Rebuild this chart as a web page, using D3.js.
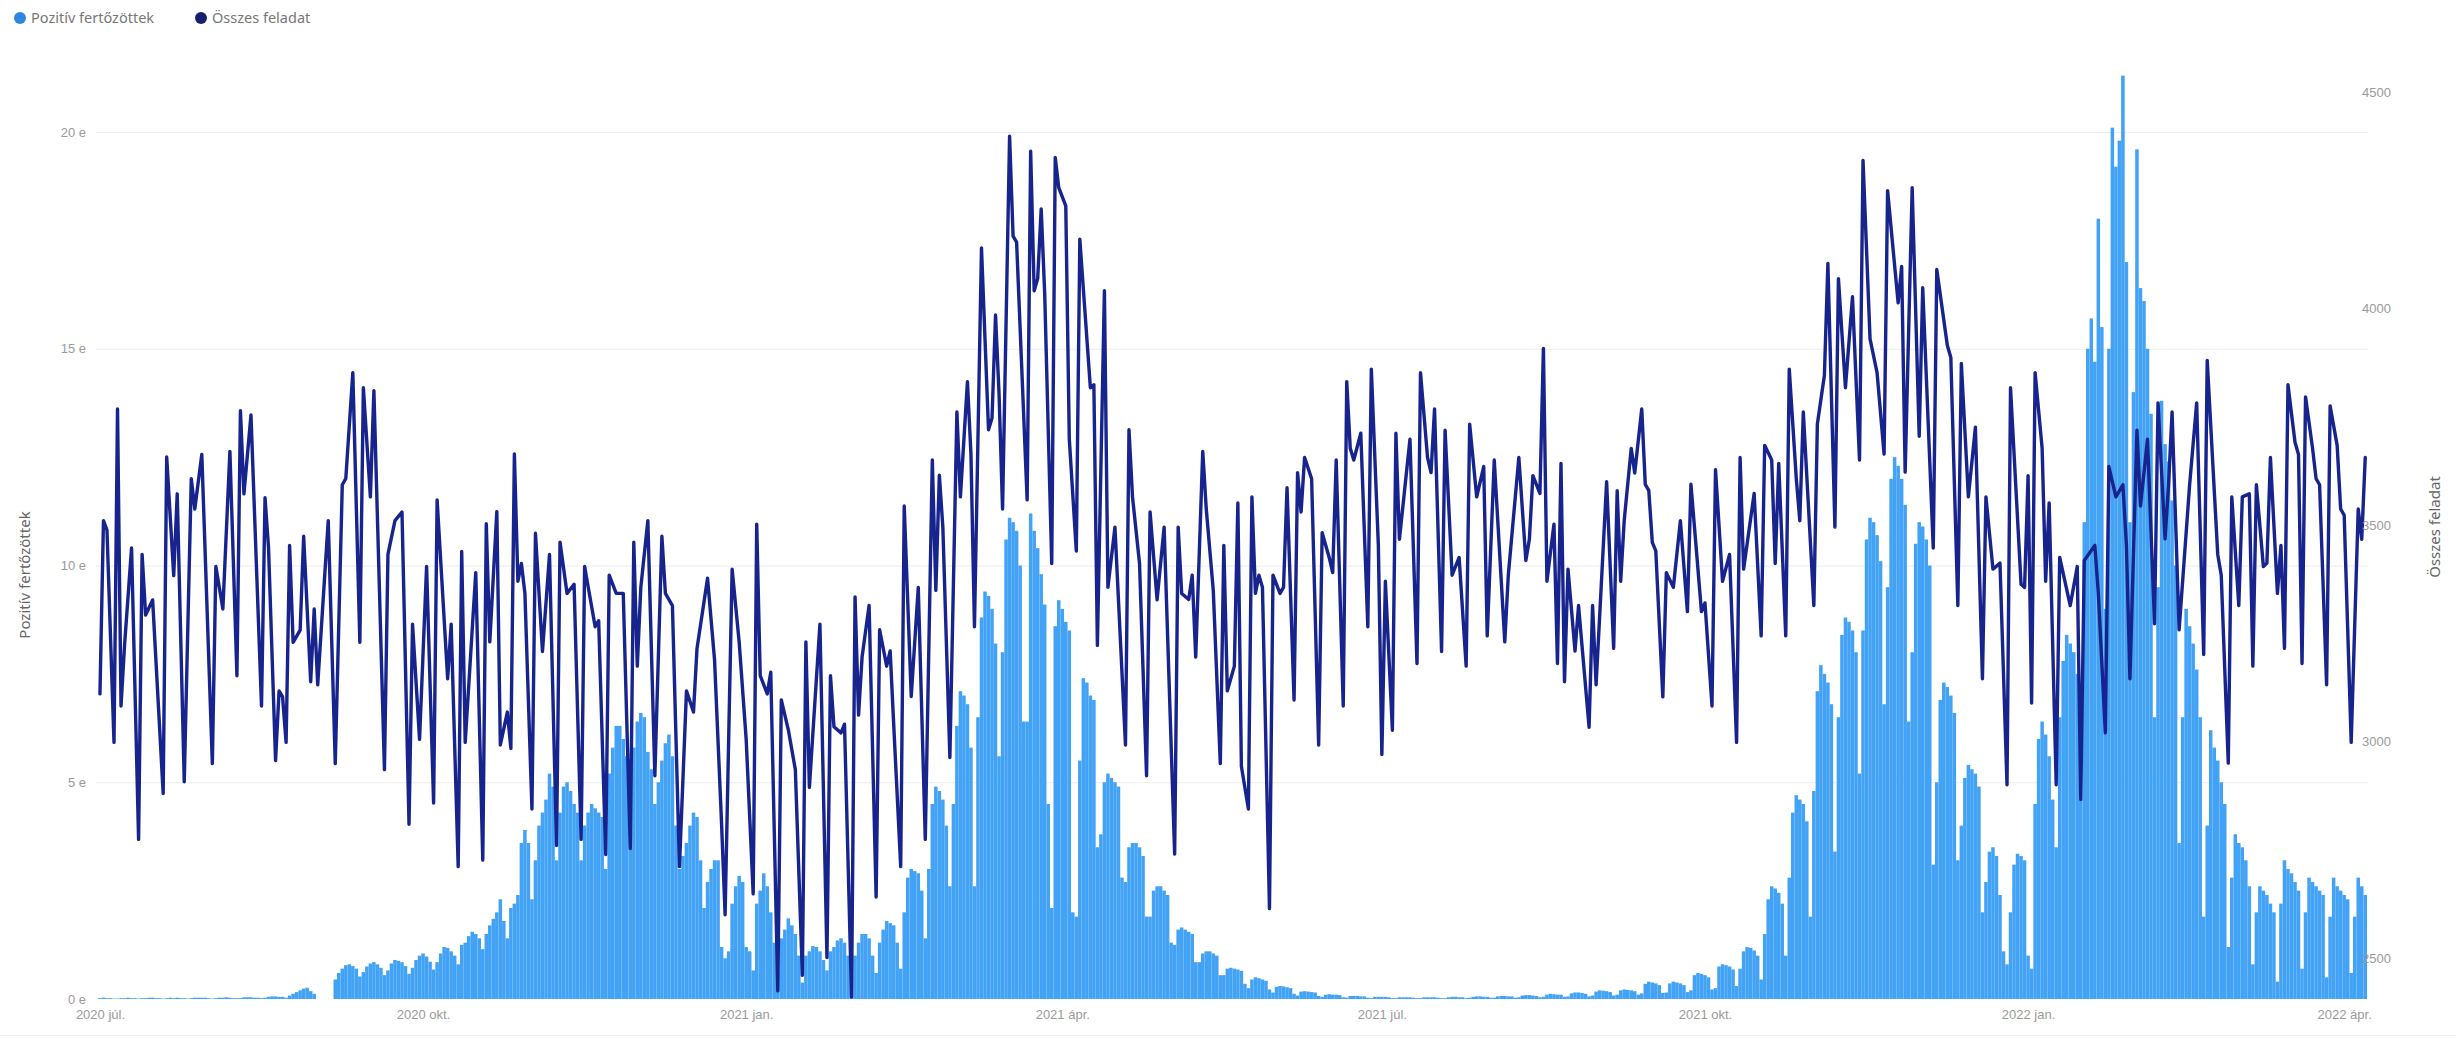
<!DOCTYPE html>
<html><head><meta charset="utf-8">
<script src="https://cdn.jsdelivr.net/npm/d3@7"></script>
<style>
body{margin:0;background:#fff;}
svg{display:block;font-family:"Noto Sans","Open Sans",sans-serif;}
</style>
</head><body>
<svg id="c" width="2456" height="1038"></svg>
<script>
// ---------- DATA ----------
const START = "2020-07-01";
const seriesNames = ["Pozitív fertőzöttek", "Összes feladat"];
const xTickDates = ["2020-07-01","2020-10-01","2021-01-01","2021-04-01","2021-07-01","2021-10-01","2022-01-01","2022-04-01"];
const xTickLabels = ["2020 júl.","2020 okt.","2021 jan.","2021 ápr.","2021 júl.","2021 okt.","2022 jan.","2022 ápr."];
const leftTicks = [0, 5000, 10000, 15000, 20000];
const leftTickLabels = ["0 e", "5 e", "10 e", "15 e", "20 e"];
const rightTicks = [2500, 3000, 3500, 4000, 4500];

// daily positive cases from 2020-07-01 (one value per day)
const positives = [
 20,30,20,20,10,
 10,20,20,30,20,20,10,
 20,20,30,30,20,20,10,
 20,30,20,30,20,20,10,
 20,30,30,30,30,20,10,
 20,30,30,40,30,20,20,
 20,40,40,40,30,30,20,
 30,50,60,60,50,50,30,
 80,120,160,200,240,260,180,
 120,0,0,0,0,0,450,
 600,700,780,800,760,700,520,
 620,750,820,850,800,720,550,
 660,820,900,880,850,760,580,
 720,900,1000,1050,980,860,680,
 850,1050,1200,1180,1100,1000,800,
 1250,1300,1450,1550,1500,1400,1150,
 1500,1700,1850,2000,2300,1800,1400,
 2100,2200,2400,3600,3900,3600,2300,
 3200,4000,4300,4600,5200,4900,3200,
 4300,4900,5000,4800,4500,4300,3200,
 4000,4300,4500,4400,4300,4200,3000,
 5200,5800,6300,6300,6000,5600,4200,
 5800,6400,6600,6500,5700,5300,4500,
 5000,5500,5900,6100,5600,4000,3000,
 3300,3600,4000,4300,4200,3200,2100,
 2700,3000,3200,3200,1200,940,1100,
 2200,2600,2840,2700,1200,1100,660,
 2200,2500,2900,2600,2000,1300,660,
 1400,1600,1860,1700,1500,1000,380,
 1000,1100,1220,1200,1100,900,660,
 1100,1200,1350,1400,1300,1000,520,
 1000,1300,1500,1500,1400,1000,600,
 1300,1600,1800,1750,1700,1300,700,
 2000,2800,3000,2950,2900,2500,1400,
 3000,4500,4900,4800,4600,4000,2600,
 4500,6300,7100,7000,6800,5800,2600,
 6500,8800,9400,9300,9000,8200,5600,
 8000,10600,11100,11000,10800,10000,6400,
 6400,11200,10800,10400,9800,9100,4500,
 2100,8600,9200,9000,8700,8500,2000,
 1900,5500,7400,7300,7000,6900,3500,
 3800,5000,5200,5100,5000,4900,2800,
 2700,3500,3600,3600,3500,3300,1900,
 1900,2500,2600,2600,2500,2400,1300,
 1250,1600,1650,1600,1550,1500,850,
 850,1050,1100,1100,1050,1000,550,
 550,700,720,700,680,650,350,
 250,450,500,480,450,420,220,
 150,280,300,290,270,250,120,
 80,170,180,170,160,150,70,
 50,100,110,100,100,90,40,
 30,70,70,70,60,60,30,
 20,50,50,50,50,40,20,
 20,40,40,40,40,30,20,
 20,40,40,40,40,30,20,
 20,40,50,50,40,40,20,
 30,50,60,60,50,50,30,
 30,60,70,70,60,60,30,
 40,80,90,90,80,70,40,
 50,100,120,110,100,100,50,
 60,130,150,150,140,120,60,
 80,170,200,190,180,160,80,
 100,200,220,210,200,180,100,
 130,350,400,380,360,320,140,
 150,360,400,380,360,320,160,
 200,550,600,580,550,500,220,
 250,750,800,780,750,680,300,
 700,1100,1200,1180,1120,1000,450,
 1500,2300,2600,2550,2450,2200,1000,
 2800,4300,4700,4600,4500,4100,1900,
 4800,7100,7700,7500,7300,6800,3400,
 6500,8400,8800,8700,8500,8000,5200,
 8500,10600,11100,11000,10700,10100,6800,
 9500,12000,12500,12300,12000,11400,6400,
 8000,10500,11000,10900,10600,10000,3100,
 5000,6900,7300,7200,7000,6600,3200,
 4000,5100,5400,5300,5200,4900,2000,
 2700,3400,3500,3300,2400,1100,800,
 2000,3100,3350,3300,3200,1000,700,
 4500,6000,6400,6100,5600,4600,3500,
 6500,7800,8400,8200,8000,7500,4600,
 11000,15000,15700,14700,18000,15500,9000,
 15000,20100,19200,19800,21300,17000,11000,
 14000,19600,16400,16100,15000,13500,6500,
 9500,13800,12800,12400,11500,10000,3600,
 6500,9000,8600,8200,7600,6500,1900,
 4000,6200,5800,5500,5000,4500,1200,
 2800,3800,3600,3500,3200,2600,800,
 2000,2600,2500,2400,2200,2000,400,
 2200,3200,3000,2900,2700,2500,700,
 2000,2800,2700,2600,2500,2400,500,
 1900,2800,2600,2500,2400,2300,600,
 1900,2800,2600,2400
];

// "Összes feladat": day offset from START and value, read at each visible vertex
const taskDay = [
 0,1,2,4,5,6,7,9,11,12,13,15,18,19,21,22,24,26,27,29,32,33,35,37,39,40,41,43,46,47,48,50,51,52,53,54,55,57,58,60,61,62,65,67,69,70,72,74,75,77,78,81,82,84,86,88,89,91,93,95,96,99,100,102,103,104,
 107,109,110,111,113,114,116,117,118,119,120,121,123,124,126,128,130,131,133,135,137,138,141,142,144,145,147,149,151,152,153,154,156,158,160,161,163,165,167,169,170,173,175,177,178,180,182,184,186,187,188,190,191,193,194,196,198,200,201,202,205,207,208,209,211,212,214,
 215,216,217,219,221,222,224,225,226,228,229,231,233,235,237,238,239,240,242,244,245,247,248,249,251,253,254,255,256,257,259,260,261,264,265,266,267,268,269,271,272,273,275,276,278,279,282,283,284,286,287,289,292,293,294,296,298,299,301,303,306,307,308,310,311,312,314,315,317,319,320,321,323,324,
 325,327,328,329,330,331,333,334,336,337,338,340,341,342,343,345,347,348,350,351,352,354,355,356,357,359,361,362,364,365,366,368,369,370,373,375,376,378,379,380,382,383,385,387,389,390,392,394,395,397,400,401,404,406,407,408,410,411,412,414,415,416,417,418,420,421,424,425,426,429,431,432,
 433,434,436,437,439,440,441,442,443,445,446,448,450,452,453,456,457,459,460,462,464,466,467,468,471,473,474,476,477,478,480,481,483,484,485,488,489,491,492,494,495,497,499,501,502,504,506,508,509,512,513,514,516,518,519,522,523,526,527,529,530,532,534,536,537,539,541,
 543,544,547,548,549,550,551,553,554,555,557,558,561,563,564,565,568,569,571,572,574,576,577,578,580,581,583,585,586,588,589,590,592,595,597,599,600,603,604,606,607,609,610,612,613,614,616,617,618,620,621,622,623,625,626,627,628,630,631,632,634,635,637,638,639,641,643,644,645
];
const taskValue = [
 3110,3510,3488,2998,3768,3082,3222,3447,2774,3432,3292,3327,2880,3657,3383,3572,2907,3607,3537,3663,2949,3404,3306,3670,3152,3764,3572,3754,3082,3563,3447,2956,3117,3103,2998,3453,3229,3257,3474,3138,3306,3131,3510,2949,3593,3607,3852,3229,3817,3565,3810,2935,3432,3510,3530,2809,3271,3005,3404,2858,3558,3145,3271,2711,3439,2998,
 3390,2726,3503,3230,3531,2992,3068,2984,3664,3370,3411,3342,2844,3481,3208,3432,2760,3460,3342,3363,2774,3404,3265,3279,2739,3384,3342,3342,2753,3460,3174,3356,3510,2921,3474,3342,3314,2711,3117,3068,3215,3377,3188,2809,2600,3398,3230,3005,2648,3502,3152,3110,3160,2424,3096,3027,2935,2460,3230,2894,3271,2501,3152,3034,3020,3040,2410,
 3334,3061,3195,3314,2641,3258,3174,3209,3040,2711,3544,3104,3356,2774,3650,3349,3615,3495,2963,3761,3565,3831,3664,3265,4140,3720,3747,3985,3803,3537,4398,4167,4153,3558,4363,4041,4069,4230,4034,3411,4349,4279,4237,3699,3440,4160,3817,3824,3222,4041,3356,3495,2992,3720,3565,3411,2921,3530,3327,3495,2740,3495,3342,3328,3384,3195,3670,3537,3349,2949,3453,3117,3174,3551,
 2943,2844,3565,3342,3384,3356,2614,3384,3342,3356,3586,3096,3621,3530,3656,3607,2992,3482,3425,3390,3650,3082,3831,3677,3650,3712,3265,3860,3453,2970,3370,3026,3712,3467,3698,3180,3852,3656,3621,3768,3208,3719,3384,3425,3174,3733,3565,3635,3244,3650,3230,3384,3656,3418,3467,3614,3573,3908,3370,3502,3180,3642,3138,3398,3209,3314,3033,3314,3131,3600,3215,3579,
 3370,3510,3677,3620,3768,3594,3580,3460,3440,3103,3390,3356,3510,3300,3594,3300,3320,3082,3628,3370,3432,2998,3656,3398,3573,3244,3684,3650,3411,3642,3244,3860,3607,3510,3761,3314,3733,3845,4104,3495,4069,3817,4027,3650,4342,3930,3852,3664,4272,4013,4097,3622,4279,3705,4048,3447,4090,3915,3887,3314,3873,3565,3726,3145,3565,3398,3412,
 2900,3817,3363,3356,3614,3089,3852,3677,3370,3551,2900,3425,3314,3404,2866,3418,3453,3342,3020,3635,3565,3593,3453,3145,3719,3544,3698,3272,3782,3468,3593,3761,3258,3593,3782,3201,3880,3432,3384,2950,3565,3314,3565,3572,3174,3593,3404,3412,3656,3342,3453,3215,3824,3691,3663,3180,3796,3677,3607,3593,3131,3775,3684,3537,3523,2998,3537,3467,3656
];

// ---------- CHART ----------
const svg = d3.select("#c");
const t0 = new Date(START + "T00:00:00Z").getTime();
const dayDate = d => new Date(t0 + d * 864e5);
const nDays = positives.length;

const x = d3.scaleUtc().domain([dayDate(-0.5), dayDate(nDays - 0.5)]).range([98.2, 2367]);
const yL = d3.scaleLinear().domain([0, 20000]).range([999, 132]);
const yR = d3.scaleLinear().domain([2500, 4500]).range([958, 92]);

const barColor = "#42a2f6";
const lineColor = "#18248e";

// gridlines
svg.append("g").selectAll("line").data(leftTicks.slice(1)).join("line")
  .attr("x1", 96).attr("x2", 2368)
  .attr("y1", d => yL(d) + 0.5).attr("y2", d => yL(d) + 0.5)
  .attr("stroke", "#ededed").attr("stroke-width", 1);

// bars
const bw = x(dayDate(1)) - x(dayDate(0));
svg.append("g").selectAll("rect").data(positives).join("rect")
  .attr("x", (d, i) => x(dayDate(i)) - bw / 2)
  .attr("width", bw)
  .attr("y", d => yL(d))
  .attr("height", d => yL(0) - yL(d))
  .attr("fill", barColor);

// line
const lineData = taskDay.map((d, i) => ({ date: dayDate(d), v: taskValue[i] }));
svg.append("path").datum(lineData)
  .attr("fill", "none").attr("stroke", lineColor).attr("stroke-width", 3.4)
  .attr("stroke-linejoin", "round").attr("stroke-linecap", "round")
  .attr("d", d3.line().x(d => x(d.date)).y(d => yR(d.v)));

// axes
const tickText = g => g.selectAll("text").attr("fill", "#9a9a9a").style("font-size", "13px");
const axL = svg.append("g").attr("transform", "translate(90,0)")
  .call(d3.axisLeft(yL).tickValues(leftTicks).tickFormat((d, i) => leftTickLabels[i]).tickSize(0).tickPadding(4));
axL.select(".domain").remove(); tickText(axL);

const axR = svg.append("g").attr("transform", "translate(2358,0)")
  .call(d3.axisRight(yR).tickValues(rightTicks).tickFormat(d3.format("d")).tickSize(0).tickPadding(4));
axR.select(".domain").remove(); tickText(axR);

const axB = svg.append("g").attr("transform", "translate(0,1006)")
  .call(d3.axisBottom(x).tickValues(xTickDates.map(s => new Date(s + "T00:00:00Z"))).tickFormat((d, i) => xTickLabels[i]).tickSize(0).tickPadding(4));
axB.select(".domain").remove(); tickText(axB);

// axis titles
svg.append("text").attr("transform", "translate(30,575) rotate(-90)")
  .attr("text-anchor", "middle").attr("fill", "#666").style("font-size", "15px").text(seriesNames[0]);
svg.append("text").attr("transform", "translate(2440,527) rotate(-90)")
  .attr("text-anchor", "middle").attr("fill", "#666").style("font-size", "15px").text(seriesNames[1]);

// legend
const leg = svg.append("g");
const legX = [20, 201];
seriesNames.forEach((n, i) => {
  leg.append("circle").attr("cx", legX[i]).attr("cy", 18).attr("r", 6).attr("fill", i === 0 ? "#2e86de" : "#14206e");
  leg.append("text").attr("x", legX[i] + 11).attr("y", 23).attr("fill", "#777").style("font-size", "14.5px").text(n);
});

// bottom border
svg.append("line").attr("x1", 0).attr("x2", 2456).attr("y1", 1035.5).attr("y2", 1035.5).attr("stroke", "#eeeeee");
</script>
</body></html>
